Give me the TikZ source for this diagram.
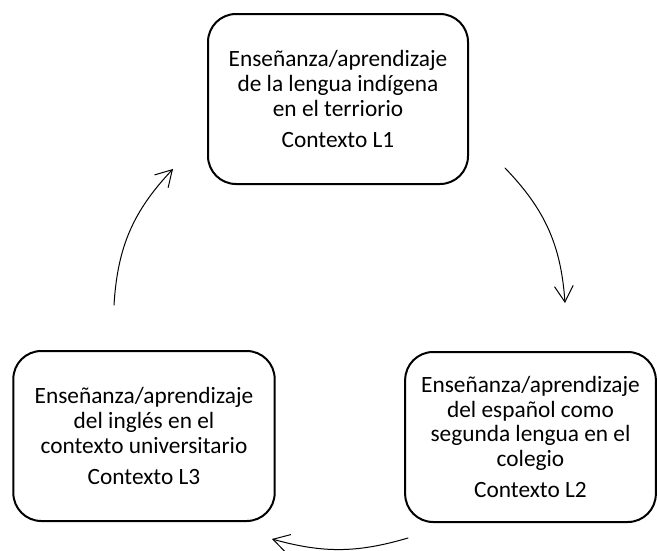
\documentclass[tikz,border=0pt]{standalone}
\usepackage{fontspec}
\setmainfont{Carlito}
\usetikzlibrary{arrows.meta}

\begin{document}
\begin{tikzpicture}[x=0.75pt,y=-0.75pt,line cap=round,line join=round,
  box/.style={draw,line width=1.5pt,rounded corners=21pt,align=center,
    font=\fontsize{17.5}{18.5}\selectfont,minimum height=127.5pt},
  arr/.style={line width=0.75pt,-{Straight Barb[length=12pt,width=14pt]}}]
  \useasboundingbox (0,0) rectangle (657,550);

  \node[box,minimum width=195pt] (L1) at (338,99) {Enseñanza/aprendizaje\\de la lengua indígena\\en el terriorio\\[5pt]Contexto L1};
  \node[box,minimum width=188pt] (L2) at (530.5,437) {Enseñanza/aprendizaje\\del español como\\segunda lengua en el\\colegio\\[5pt]Contexto L2};
  \node[box,minimum width=196pt] (L3) at (144,436) {Enseñanza/aprendizaje\\del inglés en el\\contexto universitario\\[5pt]Contexto L3};

  \coordinate (a1) at (505,168); \coordinate (b1) at (565,303);
  \coordinate (a2) at (408,538); \coordinate (b2) at (272,539);
  \coordinate (a3) at (114,305); \coordinate (b3) at (173,169);

  \draw[arr] (a1) to[bend left=20] (b1);
  \draw[arr] (a2) to[bend left=16] (b2);
  \draw[arr] (a3) to[bend left=20] (b3);
\end{tikzpicture}
\end{document}
